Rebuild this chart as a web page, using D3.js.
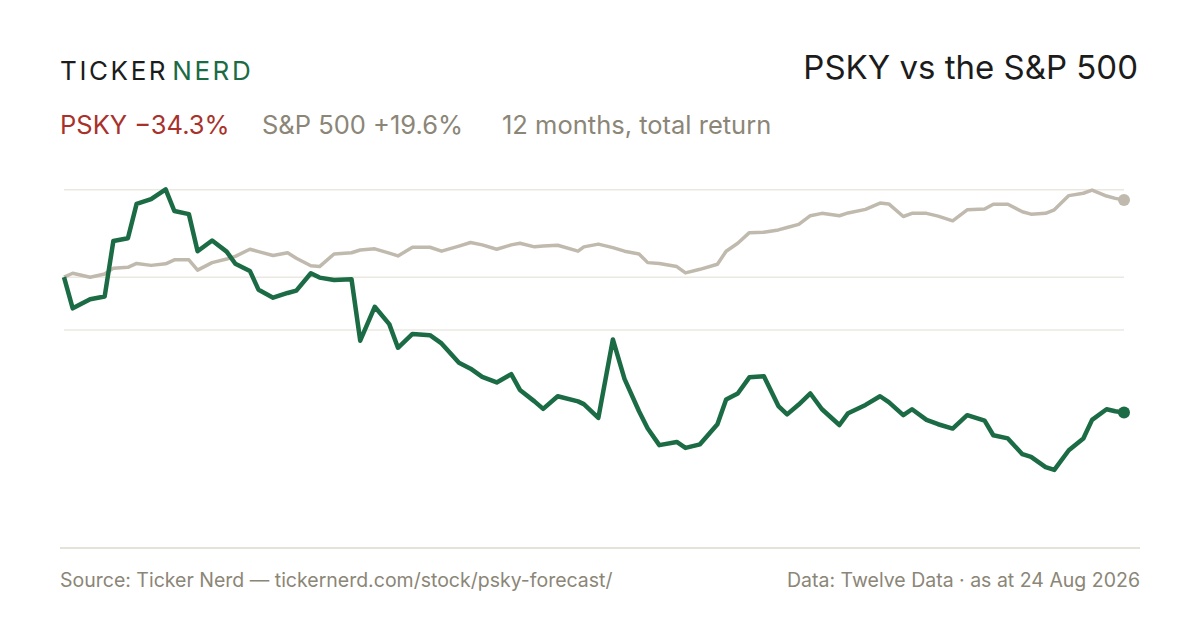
<!DOCTYPE html>
<html>
<head>
<meta charset="utf-8">
<script src="https://cdn.jsdelivr.net/npm/d3@7"></script>
<style>
  html, body { margin: 0; padding: 0; background: #fff; }
  svg { display: block; font-family: Inter, "Noto Sans", sans-serif; }
</style>
</head>
<body>
<svg id="chart" width="1200" height="630"></svg>
<script>
// Days since the start of the 12 month window (24 Aug 2025)
let dayOffsets = [0, 3, 9, 14, 17, 22, 25, 30, 35, 38, 43, 46, 51, 56, 59, 64, 67, 72, 77, 80,
  85, 88, 93, 99, 102, 107, 112, 115, 120, 126, 130, 136, 140, 144, 149, 154, 157, 162, 165, 170,
  177, 179, 184, 189, 193, 198, 201, 205, 211, 214, 219, 225, 228, 232, 236, 241, 246, 249, 253, 257,
  261, 267, 270, 276, 281, 284, 289, 292, 297, 301, 306, 311, 317, 320, 325, 330, 333, 338, 341, 346,
  351, 354, 359, 362, 365];

// PSKY total return, % since start
let pskyReturn = [0, -7.9, -5.6, -4.9, 9.2, 9.9, 18.6, 19.8, 22.3, 16.8, 16.0, 6.6, 9.3, 6.5, 3.4, 1.6, -3.2, -5.2, -4.0, -3.4,
  1.0, -0.1, -0.7, -0.5, -16.1, -7.5, -11.9, -17.9, -14.4, -14.7, -16.8, -21.7, -23.2, -25.3, -26.7, -24.6, -28.6, -31.5, -33.4, -30.2,
  -31.5, -32.2, -35.7, -15.8, -25.8, -34.0, -38.4, -42.6, -41.8, -43.3, -42.4, -37.3, -31.0, -29.5, -25.4, -25.1, -32.7, -34.8, -32.3, -29.5,
  -33.5, -37.5, -34.5, -32.4, -30.2, -31.7, -35.0, -33.5, -36.2, -37.3, -38.4, -35.0, -36.4, -40.1, -40.9, -44.9, -45.6, -48.2, -48.9, -43.9,
  -40.9, -36.2, -33.5, -34.0, -34.3];

// S&P 500 total return, % since start
let spxReturn = [0, 1.0, 0.0, 0.8, 2.3, 2.5, 3.5, 3.0, 3.4, 4.4, 4.4, 1.8, 3.7, 4.6, 5.3, 7.1, 6.5, 5.5, 6.2, 4.8,
  2.9, 2.7, 5.9, 6.2, 6.9, 7.2, 6.1, 5.4, 7.6, 7.6, 6.6, 7.9, 8.8, 8.2, 7.1, 8.2, 8.6, 7.7, 7.9, 8.1,
  6.6, 7.7, 8.4, 7.5, 6.6, 5.9, 3.7, 3.5, 2.7, 1.1, 2.0, 3.3, 6.6, 8.6, 11.3, 11.4, 12.0, 12.6, 13.4, 15.6,
  16.2, 15.6, 16.3, 17.2, 18.8, 18.6, 15.4, 16.2, 16.2, 15.5, 14.3, 17.1, 17.3, 18.5, 18.5, 16.6, 16.0, 16.2, 17.1, 20.7,
  21.3, 22.1, 20.6, 20.0, 19.6];

// Horizontal guide lines (% return)
let gridValues = [22.2, 0, -13.4];

let svg = d3.select("#chart");

// Colours
let green = "#1b6b45", red = "#a8322b", stone = "#c0b9ad", muted = "#8b8677", ink = "#1c1c1c";

// Scales
let x = d3.scaleLinear().domain([0, 365]).range([64, 1124]);
let y = d3.scaleLinear().domain([-68.7, 22.2]).range([548, 189.7]);

// Header: logo
let logo = svg.append("text")
  .attr("x", 60).attr("y", 80)
  .attr("font-size", 26)
  .attr("letter-spacing", 2.6)
  .attr("font-weight", 400);
logo.append("tspan").attr("fill", ink).text("TICKER");
logo.append("tspan").attr("fill", green).attr("dx", 4).text("NERD");

// Header: title
svg.append("text")
  .attr("x", 1138).attr("y", 79)
  .attr("text-anchor", "end")
  .attr("font-size", 33)
  .attr("fill", ink)
  .text("PSKY vs the S&P 500");

// Subtitle
let sub = [
  {x: 60, c: red, t: "PSKY \u221234.3%"},
  {x: 262, c: muted, t: "S&P 500 +19.6%"},
  {x: 502, c: muted, t: "12 months, total return"}
];
svg.append("g")
  .selectAll("text")
  .data(sub)
  .join("text")
  .attr("x", d => d.x).attr("y", 134)
  .attr("font-size", 25.5)
  .attr("fill", d => d.c)
  .text(d => d.t);

// Grid lines
svg.append("g")
  .selectAll("line")
  .data(gridValues)
  .join("line")
  .attr("x1", x(0)).attr("x2", x(365))
  .attr("y1", d => y(d)).attr("y2", d => y(d))
  .attr("stroke", "#ebe8e1")
  .attr("stroke-width", 1.5);

// Bottom rule
svg.append("line")
  .attr("x1", 60).attr("x2", 1140)
  .attr("y1", y(-68.7)).attr("y2", y(-68.7))
  .attr("stroke", "#dcd8cc")
  .attr("stroke-width", 1.5);

// Lines
let line = d3.line()
  .x((d, i) => x(dayOffsets[i]))
  .y(d => y(d));

svg.append("path")
  .datum(spxReturn)
  .attr("d", line)
  .attr("fill", "none")
  .attr("stroke", stone)
  .attr("stroke-width", 3.5)
  .attr("stroke-linejoin", "round");

svg.append("path")
  .datum(pskyReturn)
  .attr("d", line)
  .attr("fill", "none")
  .attr("stroke", green)
  .attr("stroke-width", 4.5)
  .attr("stroke-linejoin", "round");

// End dots
let last = dayOffsets.length - 1;
svg.append("circle").attr("cx", x(dayOffsets[last])).attr("cy", y(spxReturn[last])).attr("r", 6).attr("fill", stone);
svg.append("circle").attr("cx", x(dayOffsets[last])).attr("cy", y(pskyReturn[last])).attr("r", 6).attr("fill", green);

// Footer
svg.append("text").attr("x", 60).attr("y", 587).attr("font-size", 19.5).attr("fill", muted)
  .text("Source: Ticker Nerd \u2014 tickernerd.com/stock/psky-forecast/");
svg.append("text").attr("x", 1140).attr("y", 587).attr("font-size", 19.5).attr("fill", muted)
  .attr("text-anchor", "end")
  .text("Data: Twelve Data \u00b7 as at 24 Aug 2026");
</script>
</body>
</html>
